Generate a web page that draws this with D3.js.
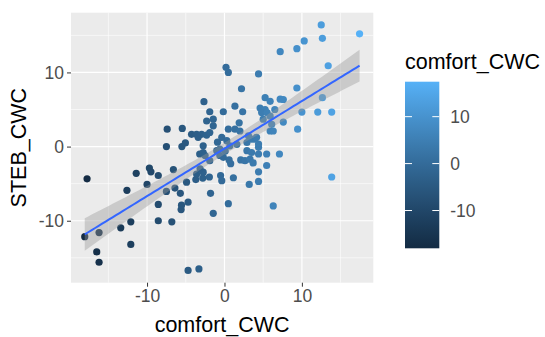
<!DOCTYPE html>
<html>
<head>
<meta charset="utf-8">
<script src="https://cdn.jsdelivr.net/npm/d3@7"></script>
<style>
  body { margin: 0; background: #fff; }
  text { font-family: "Liberation Sans", Arial, sans-serif; }
</style>
</head>
<body>
<div id="chart"></div>
<script>
// comfort_CWC (x, also mapped to colour) and STEB_CWC (y)
const comfortCWC = [
  -18.05, -17.75, -16.2, -16.5, -16.2, -13.4, -12.6, -12.1, -12.1, -11.4,
  -10.0, -9.7, -9.5, -8.55, -8.55, -8.55, -7.5, -7.5, -7.4, -6.8,
  -6.6, -6.4, -5.6, -5.55, -4.7, -5.7, -4.9, -4.7, -3.3, -1.45,
  -1.8, 0.5, -3.7, -2.8, -1.95, -3.6, -2.75, -0.5, -0.35, 1.15,
  3.2, 4.4, 4.4, 5.45, 7.1, 6.3, 13.85, -5.5, -5.05, -3.2,
  -1.9, 0.6, 0.8, 2.1, 2.65, 3.3, 3.7, 4.4, 4.4, -2.75,
  -2.75, -2.5, -1.0, -0.6, -0.15, -0.6, 0.3, 0.7, 2.9, 3.9,
  4.4, 2.9, 3.5, 5.45, -3.15, 0.2, 0.5, 4.4, 2.2, -2.65,
  1.35, -1.9, -0.15, 2.35, 4.6, 5.25, 4.8, 5.5, 5.25, 5.9,
  -2.3, -1.45, -1.45, -5.45, -4.25, -3.6, -2.95, -3.4, -2.3, -1.9,
  -0.35, 0.5, 1.35, 2.0, 3.1, 3.5, 4.15, 5.0, 5.9, 6.5,
  7.2, 7.6, 7.2, 12.5, 12.65, 17.45, 10.3, 9.35, 13.4, 9.35,
  12.65, 10.0, 12.05, 13.85, 7.6, 6.1, 5.9, 6.3, 9.45, 1.6,
  -0.9, 0.1, 1.9
];
const stebCWC = [
  -12.15, -4.35, -11.6, -14.2, -15.6, -10.95, -5.9, -10.15, -13.2, -3.6,
  -5.1, -2.9, -3.4, -3.9, -7.8, -10.0, 0.0, -6.05, 2.35, -10.15,
  -3.1, -5.6, -8.5, -7.9, -7.5, -6.3, -4.8, -16.7, -16.5, -9.0,
  -6.3, -7.7, -4.45, -4.25, -4.1, -3.7, -3.45, -3.9, -4.6, -4.2,
  -5.1, -4.7, -3.4, -2.55, -1.0, -8.0, -4.1, 0.0, 0.5, -1.0,
  -1.9, -1.8, -2.3, -1.8, -1.9, -1.7, -2.2, -1.0, -0.1, 0.1,
  -0.8, -1.2, -0.55, -1.2, -1.45, -0.35, 0.8, 0.1, 0.55, 1.0,
  0.35, -0.55, -0.8, -1.0, -3.0, 10.7, 10.0, 9.8, 7.8, 6.05,
  5.45, 4.7, 4.7, 4.7, 5.2, 5.0, 4.6, 4.6, 6.6, 6.1,
  3.45, 3.7, 2.8, 2.45, 1.65, 1.65, 1.65, 1.25, 1.55, 1.9,
  1.25, 2.35, 2.35, 2.1, 1.45, 1.0, 1.25, 3.7, 4.1, 5.0,
  6.4, 6.35, 12.8, 16.4, 14.6, 15.2, 14.25, 13.2, 10.9, 7.9,
  6.6, 4.65, 4.65, 4.65, 3.3, 3.0, 2.1, 2.1, 2.35, 0.3,
  0.6, -0.6, 3.2
];
const xTicks = [-10, 0, 10];
const yTicks = [-10, 0, 10];
const legendTicks = [-10, 0, 10];

const W = 545, H = 337;
const panel = { left: 71, right: 373.3, top: 12.7, bottom: 282.7 };

const points = comfortCWC.map((c, i) => ({ x: c, y: stebCWC[i] }));

const svg = d3.select("#chart").append("svg")
  .attr("width", W).attr("height", H);

// ggplot-style 5% expansion
function expand(ext) {
  const pad = (ext[1] - ext[0]) * 0.05;
  return [ext[0] - pad, ext[1] + pad];
}
const xExt = d3.extent(comfortCWC);
const yExt = d3.extent(stebCWC);
const x = d3.scaleLinear().domain(expand(xExt)).range([panel.left, panel.right]);
const y = d3.scaleLinear().domain(expand(yExt)).range([panel.bottom, panel.top]);
const colour = d3.scaleLinear().domain(xExt)
  .range(["#132B43", "#56B1F7"]).interpolate(d3.interpolateLab);

// panel background
svg.append("rect")
  .attr("x", panel.left).attr("y", panel.top)
  .attr("width", panel.right - panel.left).attr("height", panel.bottom - panel.top)
  .attr("fill", "#EBEBEB");

// grid lines: minor halfway between majors
const xMinor = [-15, -5, 5, 15];
const yMinor = [-15, -5, 5, 15];
const grid = svg.append("g");
grid.selectAll(".xm").data(xMinor).enter().append("line")
  .attr("x1", d => x(d)).attr("x2", d => x(d))
  .attr("y1", panel.top).attr("y2", panel.bottom)
  .attr("stroke", "#fff").attr("stroke-width", 0.6);
grid.selectAll(".ym").data(yMinor).enter().append("line")
  .attr("x1", panel.left).attr("x2", panel.right)
  .attr("y1", d => y(d)).attr("y2", d => y(d))
  .attr("stroke", "#fff").attr("stroke-width", 0.6);
grid.selectAll(".xM").data(xTicks).enter().append("line")
  .attr("x1", d => x(d)).attr("x2", d => x(d))
  .attr("y1", panel.top).attr("y2", panel.bottom)
  .attr("stroke", "#fff").attr("stroke-width", 1.2);
grid.selectAll(".yM").data(yTicks).enter().append("line")
  .attr("x1", panel.left).attr("x2", panel.right)
  .attr("y1", d => y(d)).attr("y2", d => y(d))
  .attr("stroke", "#fff").attr("stroke-width", 1.2);

// points
svg.append("g").selectAll("circle")
  .data(points).enter().append("circle")
  .attr("cx", d => x(d.x)).attr("cy", d => y(d.y))
  .attr("r", 3.6)
  .attr("fill", d => colour(d.x));

// linear fit with 95% confidence band (like geom_smooth(method = "lm"))
const n = points.length;
const mx = d3.mean(comfortCWC), my = d3.mean(stebCWC);
const sxx = d3.sum(comfortCWC, v => (v - mx) ** 2);
const sxy = d3.sum(points, p => (p.x - mx) * (p.y - my));
const slope = sxy / sxx;
const intercept = my - slope * mx;
const rss = d3.sum(points, p => (p.y - intercept - slope * p.x) ** 2);
const sigma = Math.sqrt(rss / (n - 2));
const tCrit = 1.98;
const fit = d3.range(80).map(i => {
  const xv = xExt[0] + (xExt[1] - xExt[0]) * i / 79;
  const yv = intercept + slope * xv;
  const se = sigma * Math.sqrt(1 / n + (xv - mx) ** 2 / sxx);
  return { x: xv, y: yv, lo: yv - tCrit * se, hi: yv + tCrit * se };
});

svg.append("path")
  .datum(fit)
  .attr("fill", "#999999").attr("fill-opacity", 0.4)
  .attr("d", d3.area().x(d => x(d.x)).y0(d => y(d.lo)).y1(d => y(d.hi)));

svg.append("path")
  .datum(fit)
  .attr("fill", "none").attr("stroke", "#3366FF").attr("stroke-width", 2)
  .attr("d", d3.line().x(d => x(d.x)).y(d => y(d.y)));

// axes (plain hyphen minus like R)
const fmt = d => String(d);
const xAxis = svg.append("g")
  .attr("transform", `translate(0,${panel.bottom})`)
  .call(d3.axisBottom(x).tickValues(xTicks).tickFormat(fmt).tickSize(4).tickPadding(3));
const yAxis = svg.append("g")
  .attr("transform", `translate(${panel.left},0)`)
  .call(d3.axisLeft(y).tickValues(yTicks).tickFormat(fmt).tickSize(4).tickPadding(3));
[xAxis, yAxis].forEach(a => {
  a.select(".domain").remove();
  a.selectAll(".tick line").attr("stroke", "#333333").attr("stroke-width", 1);
  a.selectAll(".tick text")
    .attr("fill", "#4D4D4D")
    .style("font-size", "17.5px")
    .style("font-family", "'Liberation Sans', Arial, sans-serif");
});

// axis titles
svg.append("text")
  .attr("x", (panel.left + panel.right) / 2).attr("y", 332)
  .attr("text-anchor", "middle")
  .style("font-size", "21.5px")
  .text("comfort_CWC");

svg.append("text")
  .attr("transform", `translate(26,${(panel.top + panel.bottom) / 2}) rotate(-90)`)
  .attr("text-anchor", "middle")
  .style("font-size", "21.5px")
  .text("STEB_CWC");

// colour bar legend
const bar = { x: 405, y: 81.7, w: 34.3, h: 166.6 };
svg.append("text")
  .attr("x", bar.x).attr("y", 69)
  .style("font-size", "21.5px")
  .text("comfort_CWC");

const defs = svg.append("defs");
const grad = defs.append("linearGradient")
  .attr("id", "cbar").attr("x1", 0).attr("y1", 1).attr("x2", 0).attr("y2", 0);
d3.range(11).forEach(i => {
  const t = i / 10;
  grad.append("stop")
    .attr("offset", t)
    .attr("stop-color", colour(xExt[0] + (xExt[1] - xExt[0]) * t));
});
svg.append("rect")
  .attr("x", bar.x).attr("y", bar.y).attr("width", bar.w).attr("height", bar.h)
  .attr("fill", "url(#cbar)");

const legendScale = d3.scaleLinear().domain(xExt).range([bar.y + bar.h, bar.y]);
const lg = svg.append("g");
legendTicks.forEach(v => {
  const yy = legendScale(v);
  lg.append("line")
    .attr("x1", bar.x).attr("x2", bar.x + 7).attr("y1", yy).attr("y2", yy)
    .attr("stroke", "#fff").attr("stroke-width", 1);
  lg.append("line")
    .attr("x1", bar.x + bar.w - 7).attr("x2", bar.x + bar.w).attr("y1", yy).attr("y2", yy)
    .attr("stroke", "#fff").attr("stroke-width", 1);
  lg.append("text")
    .attr("x", bar.x + bar.w + 11).attr("y", yy)
    .attr("dy", "0.35em")
    .attr("fill", "#4D4D4D")
    .style("font-size", "17.5px")
    .text(fmt(v));
});
</script>
</body>
</html>
